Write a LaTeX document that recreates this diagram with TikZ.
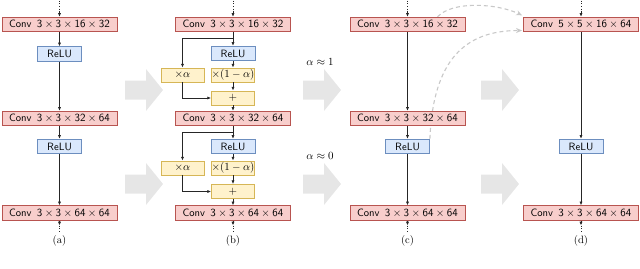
\documentclass[tikz,border=0pt]{standalone}
\usetikzlibrary{arrows.meta,backgrounds}
\definecolor{convf}{HTML}{F8CECC}
\definecolor{convb}{HTML}{B85450}
\definecolor{reluf}{HTML}{DAE8FC}
\definecolor{relub}{HTML}{6C8EBF}
\definecolor{mixf}{HTML}{FFF2CC}
\definecolor{mixb}{HTML}{D6B656}
\definecolor{linec}{HTML}{262626}
\definecolor{ghostc}{HTML}{C8C8C8}
\definecolor{arrowc}{HTML}{E6E6E6}
\newcommand\convlab[4]{Conv\enspace$\mathsf{#1\times#2\times#3\times#4}$}
\begin{document}
\begin{tikzpicture}[x=1pt,y=-1pt,
  boxfont/.style={font=\fontsize{10.6}{12}\selectfont\sffamily},
  conv/.style={draw=convb, fill=convf, line width=0.8pt, minimum width=115pt, minimum height=14.5pt, inner sep=0pt, boxfont},
  relu/.style={draw=relub, fill=reluf, line width=0.8pt, minimum width=44pt, minimum height=14.5pt, inner sep=0pt, boxfont},
  mix/.style={draw=mixb, fill=mixf, line width=0.8pt, minimum width=43pt, minimum height=14pt, inner sep=0pt, font=\fontsize{10.6}{12}\selectfont},
  flow/.style={draw=linec, line width=0.75pt, -{Latex[length=3.8pt,width=3.2pt]}},
  dots/.style={draw=linec, line width=0.8pt, dotted},
  ghost/.style={draw=ghostc, line width=1.1pt, dash pattern=on 4pt off 3pt, -{Stealth[length=6pt,width=5pt]}},
  bigarrow/.style={fill=arrowc, draw=none},
  lab/.style={inner sep=0pt, font=\fontsize{10.6}{12}\selectfont}
]
\useasboundingbox (0,0) rectangle (640,268);

% (a)
\node[conv] (atop) at (59.5,24.5) {\convlab{3}{3}{16}{32}};
\node[relu] (a2) at (59.5,54) {ReLU};
\node[conv] (a3) at (59.5,118.5) {\convlab{3}{3}{32}{64}};
\node[relu] (a4) at (59.5,146.5) {ReLU};
\node[conv] (abot) at (59.5,213) {\convlab{3}{3}{64}{64}};
\node[lab] (al) at (59.5,241) {(a)};
\draw[flow] (atop) -- (a2);
\draw[flow] (a2) -- (a3);
\draw[flow] (a3) -- (a4);
\draw[flow] (a4) -- (abot);

% (b)
\node[conv] (btop) at (233,24.5) {\convlab{3}{3}{16}{32}};
\node[relu] (b2) at (233,53.5) {ReLU};
\node[mix] (b3) at (233,75) {$\times(1-\alpha)$};
\node[mix] (b4) at (182.5,75) {$\times\alpha$};
\node[mix] (b5) at (233,98) {$+$};
\node[conv] (b6) at (233,118.5) {\convlab{3}{3}{32}{64}};
\node[relu] (b7) at (233,146.5) {ReLU};
\node[mix] (b8) at (233,168) {$\times(1-\alpha)$};
\node[mix] (b9) at (182.5,168) {$\times\alpha$};
\node[mix] (b10) at (233,191.5) {$+$};
\node[conv] (bbot) at (233,213) {\convlab{3}{3}{64}{64}};
\node[lab] (bl) at (233,241) {(b)};
\coordinate (bj1) at (233,38);
\coordinate (bj2) at (233,132);
\draw[flow] (btop) -- (b2);
\draw[flow] (bj1) -| (b4);
\draw[flow] (b2) -- (b3);
\draw[flow] (b3) -- (b5);
\draw[flow] (b4) |- (b5);
\draw[flow] (b5) -- (b6);
\draw[flow] (b6) -- (b7);
\draw[flow] (bj2) -| (b9);
\draw[flow] (b7) -- (b8);
\draw[flow] (b8) -- (b10);
\draw[flow] (b9) |- (b10);
\draw[flow] (b10) -- (bbot);

% (c)
\node[conv] (ctop) at (407.5,24.5) {\convlab{3}{3}{16}{32}};
\node[conv] (c2) at (407.5,118.5) {\convlab{3}{3}{32}{64}};
\node[relu] (c3) at (407.5,146.5) {ReLU};
\node[conv] (cbot) at (407.5,213) {\convlab{3}{3}{64}{64}};
\node[lab] (cl) at (407.5,241) {(c)};
\draw[flow] (ctop) -- (c2);
\draw[flow] (c2) -- (c3);
\draw[flow] (c3) -- (cbot);

% (d)
\node[conv] (dtop) at (581,24.5) {\convlab{5}{5}{16}{64}};
\node[relu] (d2) at (581,146.5) {ReLU};
\node[conv] (dbot) at (581,213) {\convlab{3}{3}{64}{64}};
\node[lab] (dl) at (581,241) {(d)};
\draw[flow] (dtop) -- (d2);
\draw[flow] (d2) -- (dbot);

% inputs / outputs
\foreach \c/\x in {a/59.5,b/233,c/407.5,d/581}{
  \coordinate (\c in) at (\x,0.5);
  \coordinate (\c mid) at (\x,10.5);
  \draw[dots] (\c in) -- (\c mid);
  \draw[flow] (\c mid) -- (\c top);
  \coordinate (\c o1) at (\x,225.5);
  \coordinate (\c o2) at (\x,233.5);
  \draw[flow] (\c bot) -- (\c o1);
  \draw[dots] (\c o1) -- (\c o2);
}

% alpha labels
\node[lab] (al1) at (320,62) {$\alpha\approx1$};
\node[lab] (al0) at (320,156) {$\alpha\approx0$};

\begin{pgfonlayer}{background}
  \foreach \x in {125,303,481}{
    \foreach \y in {90,184}{
      \fill[bigarrow] (\x,\y-9.5) -- (\x+21,\y-9.5) -- (\x+21,\y-21) -- (\x+38,\y)
        -- (\x+21,\y+21) -- (\x+21,\y+9.5) -- (\x,\y+9.5) -- cycle;
    }
  }
  \draw[ghost] ([xshift=30pt]ctop.north) .. controls (452.5,0.5) and (497.5,3.5) .. ([xshift=-1pt,yshift=1.5pt]dtop.north west);
  \draw[ghost] (c3.north east) .. controls (433,60) and (465,30.5) .. ([xshift=-1pt,yshift=-6pt]dtop.west);
\end{pgfonlayer}
\end{tikzpicture}
\end{document}
